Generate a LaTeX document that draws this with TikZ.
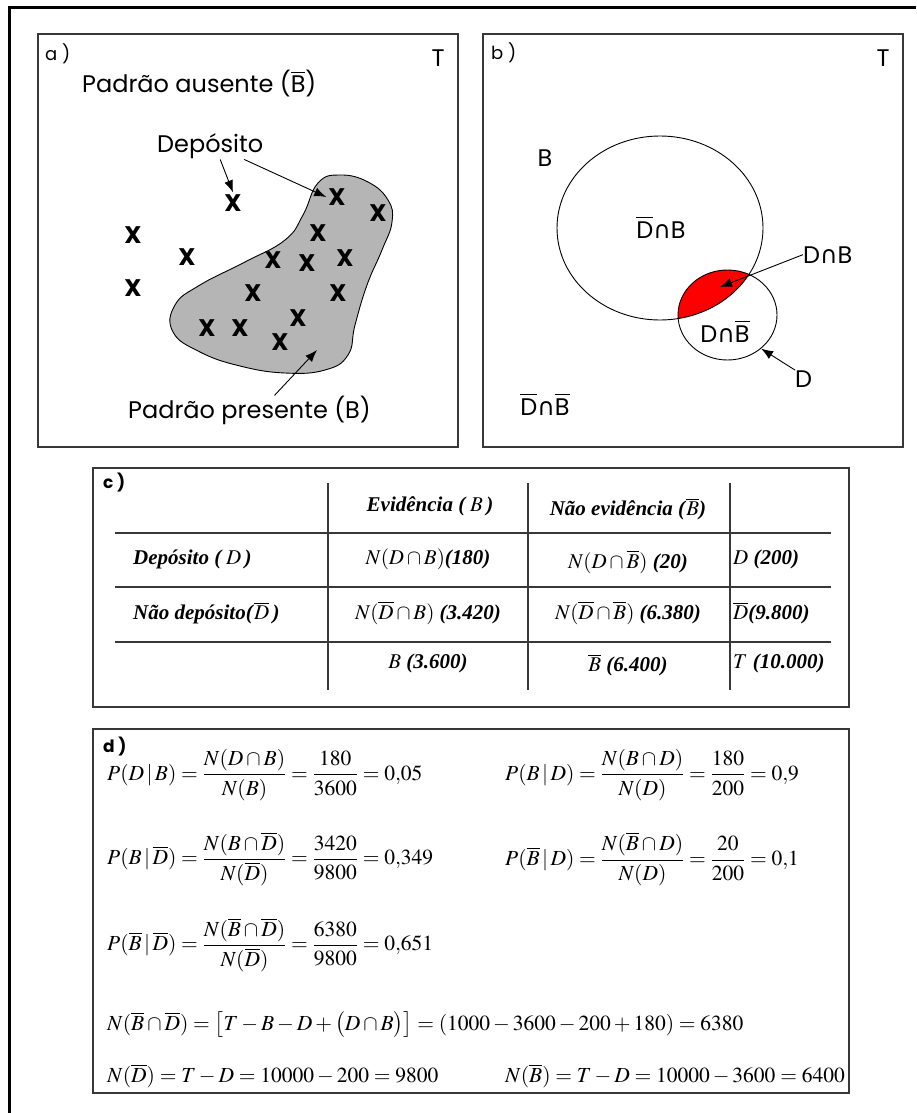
\documentclass[tikz,border=0pt]{standalone}
\usepackage{amsmath}
\usepackage{mathptmx}
\usepackage{fontspec}
\setmainfont{Liberation Serif}
\newfontfamily\gothic{Poppins}
\newfontfamily\simbolo{DejaVu Sans}
\usetikzlibrary{positioning, arrows.meta, shapes.geometric}
\definecolor{cadre}{gray}{0.22}
\definecolor{padrao}{gray}{0.71}
\definecolor{lente}{rgb}{1,0,0}
\newcommand{\barra}[1]{$\overline{\hbox{#1}}$}
\newcommand{\inter}{{\simbolo ∩}}
\newcommand{\nb}[1]{\textbf{\textit{#1}}}

\begin{document}
\begin{tikzpicture}[x=1pt, y=-1pt,
  quadro/.style={draw=cadre, line width=1.6pt},
  gotico/.style={font=\gothic\fontsize{24}{27}\selectfont, inner sep=0pt},
  rotulo/.style={font=\gothic\fontsize{18}{20}\selectfont, inner sep=0pt},
  xis/.style={font=\gothic\fontsize{24}{26}\selectfont, inner sep=2pt},
  seta/.style={-{Latex[length=12pt,width=9pt]}, line width=0.9pt},
  celula/.style={font=\fontsize{21}{24}\selectfont, inner sep=0pt},
  formula/.style={font=\fontsize{21.5}{25}\selectfont, inner sep=0pt, anchor=west}]
  \useasboundingbox (0,0) rectangle (916,1113);

  % --- cadre exterieur (coupe a droite et en bas) -----------------------
  \draw[line width=3pt] (9,1113) -- (9,8) -- (916,8);

  % --- a) zone du padrao ------------------------------------------------
  \draw[quadro] (38,34) rectangle (458,447);
  \node[rotulo, anchor=base west] (la) at (45,61) {a )};
  \node[gotico, anchor=base] (ta) at (438,67) {T};
  \node[gotico, anchor=base west] (aus) at (82,93) {Padrão ausente (\barra{B})};
  \filldraw[fill=padrao, draw=black, line width=0.9pt]
    plot[smooth cycle, tension=0.75] coordinates {
      (318,183) (340,175) (368,182) (388,200) (392,222) (382,250)
      (367,285) (355,325) (348,355) (325,370) (285,373) (240,366)
      (200,352) (173,332) (175,305) (200,285) (245,262) (285,240)
      (303,215)};
  % depositos fora e dentro
  \foreach \px/\py [count=\i] in {233/203, 133/235, 187/257, 133/288}
    \node[xis] (xo\i) at (\px,\py) {\bfseries X};
  \foreach \px/\py [count=\i] in {337/197, 378/213, 318/233, 273/260,
      307/263, 345/258, 253/293, 338/293, 298/318, 207/328, 240/328, 280/342}
    \node[xis] (xi\i) at (\px,\py) {\bfseries X};
  \node[gotico, anchor=base west] (dep) at (157,153) {Depósito};
  \draw[seta] ([xshift=10pt]dep.south) -- (xo1.north);
  \draw[seta] ([xshift=34pt]dep.south) -- (xi1.west);
  \node[gotico, anchor=base west] (pres) at (128,418) {Padrão presente (B)};
  \coordinate (alvo) at (317,350);
  \draw[seta] ([xshift=25pt]pres.north) -- (alvo);

  % --- b) diagrama de Venn ---------------------------------------------
  \draw[quadro] (483,34) rectangle (903,447);
  \node[rotulo, anchor=base west] (lb) at (491,60) {b )};
  \node[gotico, anchor=base] (tb) at (883,67) {T};
  \begin{scope}
    \clip (660,228) ellipse (103 and 92);
    \fill[lente] (727.5,315) ellipse (49.5 and 45);
  \end{scope}
  \node[ellipse, draw, line width=0.9pt, inner sep=0pt,
        minimum width=206pt, minimum height=184pt] (cb) at (660,228) {};
  \node[ellipse, draw, line width=0.9pt, inner sep=0pt,
        minimum width=99pt, minimum height=90pt] (cd) at (727.5,315) {};
  \node[gotico, anchor=base] (nb) at (545,166) {B};
  \node[gotico, anchor=base] (nbd) at (661,238) {\barra{D}\inter B};
  \node[gotico, anchor=base west] (dnb) at (803,263) {D\inter B};
  \node[gotico, anchor=base] (dnbb) at (725,342) {D\inter\barra{B}};
  \node[gotico, anchor=base west] (nd) at (795,387) {D};
  \node[gotico, anchor=base] (fora) at (545,415) {\barra{D}\inter\barra{B}};
  \coordinate (lentec) at (720,287);
  \draw[seta] (dnb.west) -- (lentec);
  \draw[seta] (nd.north west) -- (cd.-45);

  % --- c) tabela de contingencia -----------------------------------------
  \draw[quadro] (93,468) rectangle (849,707);
  \node[font=\gothic\bfseries\fontsize{17}{19}\selectfont, inner sep=0pt,
        anchor=base west] (lc) at (103,488) {c )};
  \foreach \cx in {328, 528, 730}
    \draw[cadre, line width=1.3pt] (\cx,483) -- (\cx,690);
  \foreach \ry in {533, 587, 642}
    \draw[cadre, line width=1.3pt] (115,\ry) -- (831,\ry);
  \node[celula] (h1) at (430,506) {\nb{Evidência (}\,$B$\,\nb{)}};
  \node[celula] (h2) at (628,509) {\nb{Não evidência (}$\overline{B}$\nb{)}};
  \node[celula, anchor=west] (r1) at (133,559) {\nb{Depósito (}\,$D$\,\nb{)}};
  \node[celula, anchor=west] (r2) at (133,613) {\nb{Não depósito(}$\overline{D}$\,\nb{)}};
  \node[celula] (c11) at (428,559) {$N(D\cap B)$\nb{(180)}};
  \node[celula] (c12) at (628,562) {$N(D\cap\overline{B})$ \nb{(20)}};
  \node[celula, anchor=west] (c13) at (733,559) {$D$ \nb{(200)}};
  \node[celula] (c21) at (428,613) {$N(\overline{D}\cap B)$ \nb{(3.420)}};
  \node[celula] (c22) at (628,613) {$N(\overline{D}\cap\overline{B})$ \nb{(6.380)}};
  \node[celula, anchor=west] (c23) at (733,613) {$\overline{D}$\nb{(9.800)}};
  \node[celula] (c31) at (428,663) {$B$ \nb{(3.600)}};
  \node[celula] (c32) at (628,665) {$\overline{B}$ \nb{(6.400)}};
  \node[celula, anchor=west] (c33) at (733,663) {$T$ \nb{(10.000)}};

  % --- d) probabilidades condicionais -------------------------------------
  \draw[quadro] (93,729) rectangle (849,1093);
  \node[font=\gothic\bfseries\fontsize{17}{19}\selectfont, inner sep=0pt,
        anchor=base west] (ld) at (103,752) {d )};
  \node[formula] (f1) at (107,775)
    {$P(D\,|\,B)=\dfrac{N(D\cap B)}{N(B)}=\dfrac{180}{3600}=0{,}05$};
  \node[formula] (f2) at (505,775)
    {$P(B\,|\,D)=\dfrac{N(B\cap D)}{N(D)}=\dfrac{180}{200}=0{,}9$};
  \node[formula] (f3) at (107,859)
    {$P(B\,|\,\overline{D})=\dfrac{N(B\cap\overline{D})}{N(\overline{D})}=\dfrac{3420}{9800}=0{,}349$};
  \node[formula] (f4) at (505,859)
    {$P(\overline{B}\,|\,D)=\dfrac{N(\overline{B}\cap D)}{N(D)}=\dfrac{20}{200}=0{,}1$};
  \node[formula] (f5) at (107,945)
    {$P(\overline{B}\,|\,\overline{D})=\dfrac{N(\overline{B}\cap\overline{D})}{N(\overline{D})}=\dfrac{6380}{9800}=0{,}651$};
  \node[formula] (f6) at (107,1025)
    {$N(\overline{B}\cap\overline{D})=\bigl[T-B-D+\bigl(D\cap B\bigr)\bigr]=(1000-3600-200+180)=6380$};
  \node[formula] (f7) at (107,1076)
    {$N(\overline{D})=T-D=10000-200=9800$};
  \node[formula] (f8) at (505,1076)
    {$N(\overline{B})=T-D=10000-3600=6400$};
\end{tikzpicture}
\end{document}
